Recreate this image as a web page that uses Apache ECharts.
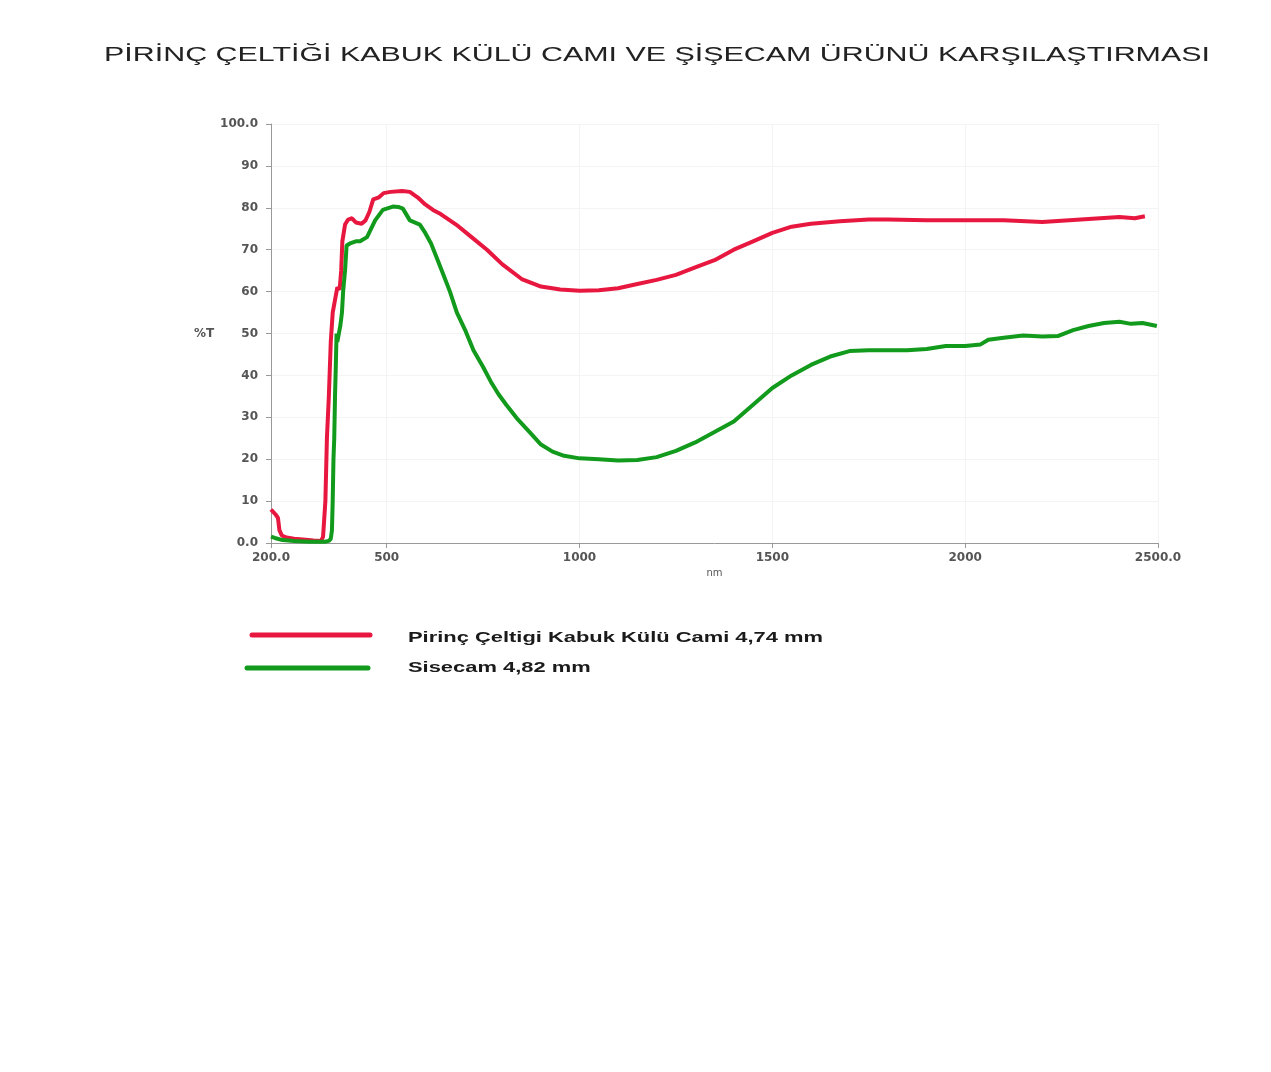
<!DOCTYPE html>
<html>
<head>
<meta charset="utf-8">
<script src="https://cdn.jsdelivr.net/npm/echarts@6/dist/echarts.min.js"></script>
<style>
  html, body { margin: 0; padding: 0; background: #fff; }
  #chart { width: 1271px; height: 1072px; }
</style>
</head>
<body>
<div id="chart"></div>
<script>
// transmission spectra
var xTicks = [200, 500, 1000, 1500, 2000, 2500];

var redNm = [200, 205, 212, 218, 222, 228, 240, 260, 290, 310, 330, 335, 341, 345, 350, 355, 360, 366, 372, 378, 382, 385, 392, 400, 410, 420, 435, 445, 455, 465, 480, 492, 510, 540, 560, 580, 600, 620, 640, 680, 720, 760, 800, 850, 900, 950, 1000, 1050, 1100, 1150, 1200, 1250, 1300, 1350, 1400, 1450, 1500, 1550, 1600, 1675, 1750, 1800, 1900, 2000, 2100, 2200, 2300, 2400, 2440, 2466];
var redT  = [8, 7.5, 6.8, 6, 3, 1.8, 1.3, 1, 0.8, 0.6, 0.5, 1.5, 10, 25, 35, 48, 55, 58, 61, 60.5, 65, 72, 76, 77.2, 77.5, 76.5, 76.2, 77, 79, 82, 82.5, 83.5, 83.8, 84, 83.8, 82.5, 80.8, 79.5, 78.5, 76, 73, 70, 66.5, 63, 61.2, 60.5, 60.2, 60.3, 60.8, 61.8, 62.8, 64, 65.8, 67.5, 70, 72, 74, 75.5, 76.2, 76.8, 77.2, 77.2, 77, 77, 77, 76.6, 77.2, 77.8, 77.5, 78];

var greenNm = [200, 210, 230, 260, 300, 340, 350, 355, 358, 360, 362, 364, 366, 368, 370, 372, 376, 380, 384, 387, 392, 396, 405, 420, 431, 449, 470, 490, 516, 530, 542, 560, 586, 600, 615, 630, 645, 664, 682, 705, 725, 750, 770, 790, 810, 840, 870, 900, 930, 960, 1000, 1050, 1100, 1150, 1200, 1250, 1300, 1350, 1400, 1450, 1500, 1550, 1600, 1650, 1700, 1750, 1800, 1850, 1900, 1950, 2000, 2040, 2060, 2100, 2150, 2200, 2240, 2280, 2320, 2360, 2400, 2430, 2460, 2497];
var greenT  = [1.5, 1.2, 0.7, 0.5, 0.3, 0.3, 0.5, 1, 3, 10, 20, 25, 35, 42, 50, 48, 50, 52, 55, 60, 65, 71, 71.5, 72, 72, 73, 77, 79.5, 80.3, 80.2, 79.8, 77, 76, 74, 71.5, 68, 64.5, 60, 55, 50.5, 46, 42, 38.5, 35.5, 33, 29.5, 26.5, 23.5, 21.8, 20.8, 20.2, 20, 19.7, 19.8, 20.5, 22, 24, 26.5, 29, 33, 37, 40, 42.5, 44.5, 45.8, 46, 46, 46, 46.3, 47, 47, 47.4, 48.5, 49, 49.5, 49.3, 49.4, 50.8, 51.8, 52.5, 52.8, 52.3, 52.5, 51.8];

var titleText = 'PİRİNÇ ÇELTİĞİ KABUK KÜLÜ CAMI VE ŞİŞECAM ÜRÜNÜ KARŞILAŞTIRMASI';
var redName = 'Pirinç Çeltigi Kabuk Külü Cami 4,74 mm';
var greenName = 'Sisecam 4,82 mm';
var redColor = '#e8173f';
var greenColor = '#129a1c';

var pairs = function(xs, ys) {
    return xs.map(function(x, i) { return [x, ys[i]]; });
};

var labelStyle = {
    color: '#555',
    fontSize: 12,
    fontWeight: 'bold',
    fontFamily: 'DejaVu Sans'
};

// the scan is stretched sideways, so the texts get a scaleX
var legendEntry = function(name, color, x1, x2, yLine, yText) {
    return {
        type: 'group',
        children: [
            {
                type: 'line',
                shape: { x1: x1, y1: yLine, x2: x2, y2: yLine },
                style: { stroke: color, lineWidth: 5, lineCap: 'round' }
            },
            {
                type: 'text',
                x: 408,
                y: yText,
                scaleX: 1.46,
                style: {
                    text: name,
                    x: 0,
                    y: 0,
                    fill: '#1a1a1a',
                    font: 'bold 15px "Liberation Sans"',
                    textAlign: 'left',
                    textVerticalAlign: 'middle'
                }
            }
        ]
    };
};

var myChart = echarts.init(document.getElementById('chart'));
myChart.setOption({
    backgroundColor: '#fff',
    animation: false,
    graphic: [
        {
            type: 'text',
            x: 657,
            y: 55,
            scaleX: 1.52,
            style: {
                text: titleText,
                x: 0,
                y: 0,
                fill: '#222',
                font: '20px "Liberation Sans"',
                textAlign: 'center',
                textVerticalAlign: 'middle'
            }
        },
        legendEntry(redName, redColor, 252, 370, 635, 638),
        legendEntry(greenName, greenColor, 247, 368, 668, 668)
    ],
    grid: {
        left: 271,
        top: 124,
        width: 887,
        height: 419
    },
    xAxis: {
        type: 'value',
        min: 200,
        max: 2500,
        name: 'nm',
        nameLocation: 'middle',
        nameGap: 25,
        nameTextStyle: { color: '#555', fontSize: 10, fontFamily: 'DejaVu Sans' },
        axisLine: { lineStyle: { color: '#999' } },
        axisTick: { customValues: xTicks, length: 5, lineStyle: { color: '#999' } },
        axisLabel: Object.assign({
            customValues: xTicks,
            margin: 9,
            formatter: function(v) { return (v === 200 || v === 2500) ? v.toFixed(1) : String(v); }
        }, labelStyle),
        splitLine: { show: true, lineStyle: { color: '#f4f4f4' } }
    },
    yAxis: {
        type: 'value',
        min: 0,
        max: 100,
        interval: 10,
        name: '%T',
        nameLocation: 'middle',
        nameRotate: 0,
        nameGap: 51,
        nameTextStyle: labelStyle,
        axisLine: { show: true, lineStyle: { color: '#999' } },
        axisTick: { show: true, length: 5, lineStyle: { color: '#999' } },
        axisLabel: Object.assign({
            margin: 13,
            formatter: function(v) { return (v === 0 || v === 100) ? v.toFixed(1) : String(v); }
        }, labelStyle),
        splitLine: { show: true, lineStyle: { color: '#f4f4f4' } }
    },
    series: [
        {
            name: redName,
            type: 'line',
            showSymbol: false,
            color: redColor,
            lineStyle: { width: 4, color: redColor },
            data: pairs(redNm, redT)
        },
        {
            name: greenName,
            type: 'line',
            showSymbol: false,
            color: greenColor,
            lineStyle: { width: 4, color: greenColor },
            data: pairs(greenNm, greenT)
        }
    ]
});
</script>
</body>
</html>
